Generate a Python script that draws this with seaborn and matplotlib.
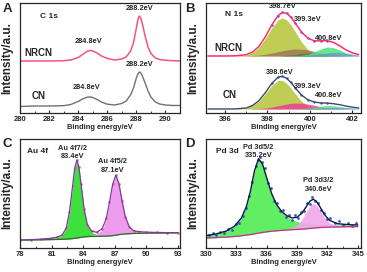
import numpy as np
import pandas as pd
import matplotlib
matplotlib.use('Agg')
from matplotlib import pyplot as plt
from matplotlib.ticker import MultipleLocator
import seaborn as sns

# ---------------- A: C 1s ----------------
c1s_x = [280, 281, 282, 283, 283.5, 284, 284.3, 284.6, 284.8, 285, 285.3, 285.6, 286, 286.5,
         287, 287.3, 287.6, 287.8, 288, 288.1, 288.2, 288.3, 288.4, 288.6, 288.8, 289, 289.3,
         289.6, 290, 290.5, 291]
c1s_nrcn = [52, 52, 52, 52.3, 53, 55.5, 58.5, 61.5, 62.5, 62, 60, 57, 54.5, 53,
            54, 56, 62, 70, 85, 93, 97, 95, 90, 77, 66, 59.5, 55,
            53.5, 52.7, 52.3, 52]
c1s_cn = [6.5, 7, 7, 7.3, 8.5, 11.5, 14, 15.8, 16, 15.5, 13.5, 11, 8.8, 8,
          9.5, 12, 18, 25, 35, 39, 41, 40, 37.5, 30, 22, 16, 11,
          9, 8, 7.5, 7.5]

# ---------------- B: N 1s ----------------
n1s_x = [395.2, 396, 396.5, 397, 397.3, 397.6, 397.9, 398.2, 398.5, 398.7, 398.9, 399.1,
         399.3, 399.6, 399.9, 400.2, 400.5, 400.8, 401.1, 401.4, 401.7, 402, 402.3]
nrcn_base = 57
nrcn_yellow = [0, 0, 0.1, 1.1, 3.5, 8.7, 17.4, 28, 36.2, 38, 36.2, 31.3,
               24.5, 14.1, 6.6, 2.4, 0.7, 0.2, 0, 0, 0, 0, 0]
nrcn_brown = [0, 0, 0.1, 0.2, 0.5, 0.9, 1.7, 2.9, 4.2, 5.2, 6, 6.6,
              7, 6.8, 6, 4.7, 3.3, 2.1, 1.2, 0.6, 0.3, 0.1, 0]
nrcn_dkgreen = [0, 0, 0, 0, 0, 0, 0, 0, 0, 0.3, 0.6, 1,
                1.5, 2.4, 3, 2.8, 2.1, 1.2, 0.6, 0.2, 0, 0, 0]
nrcn_green = [0, 0, 0, 0, 0, 0, 0, 0, 0, 0, 0, 0,
              0.1, 0.6, 1.7, 4, 6.9, 8.9, 8.4, 6, 3.1, 1.2, 0.4]
nrcn_blue = [0, 0, 0, 0, 0, 0, 0, 0, 0, 0, 0, 0,
             0, 0.2, 0.6, 1.3, 2.1, 3, 3.5, 3.4, 2.7, 1.8, 1]
cn_base = 4
cn_yellow = [0, 0, 0.1, 1, 3.3, 7.9, 15.3, 23.6, 28.6, 28.6, 25.8, 21,
             15.3, 7.9, 3.3, 1, 0.2, 0, 0, 0, 0, 0, 0]
cn_pink = [0, 0, 0, 0, 0.2, 0.5, 1, 1.9, 3.2, 4.1, 4.9, 5.6,
           6, 5.8, 4.9, 3.7, 2.3, 1.3, 0.6, 0.3, 0.1, 0, 0]
cn_green = [0, 0, 0, 0, 0, 0, 0, 0, 0, 0, 0, 0,
            0, 0.3, 0.9, 1.8, 2.8, 3.5, 3.3, 2.5, 1.4, 0.7, 0.2]
cn_blue = [0, 0, 0, 0, 0, 0, 0, 0, 0, 0, 0, 0,
           0, 0, 0.2, 0.5, 0.8, 1.1, 1.4, 1.5, 1.4, 1.1, 0.8]

# ---------------- C: Au 4f ----------------
au_x = [78, 79, 80, 81, 81.5, 82, 82.4, 82.7, 83, 83.2, 83.4, 83.6, 83.8, 84.1, 84.4, 84.8,
        85.3, 85.8, 86.2, 86.5, 86.8, 87.1, 87.4, 87.7, 88, 88.4, 88.8, 89.3, 90, 91, 92, 93]
au_bg = [8, 8.1, 8.3, 8.5, 8.6, 8.8, 9, 9.2, 9.5, 9.8, 10.1, 10.4, 10.8, 11.2, 11.5, 11.7,
         11.8, 11.9, 12, 12.2, 12.5, 13, 13.5, 13.9, 14.2, 14.5, 14.7, 14.8, 15, 15.1, 15.2, 15.3]
au_72 = [0, 0.2, 0.5, 1.2, 2, 4, 11, 27, 53, 70.5, 78, 70.5, 53, 27, 11, 4,
         1.8, 1.2, 0.9, 0.8, 0.6, 0.5, 0.4, 0.35, 0.3, 0.3, 0.2, 0.2, 0.1, 0.1, 0, 0]
au_52 = [0.1, 0.1, 0.15, 0.2, 0.25, 0.3, 0.35, 0.4, 0.45, 0.5, 0.55, 0.6, 0.7, 0.8, 1, 1.3,
         2.3, 6.2, 17, 33, 51, 60, 51, 33, 17, 6.2, 2.6, 1.5, 0.9, 0.5, 0.3, 0.2]

# ---------------- D: Pd 3d ----------------
pd_x = [330, 331, 332, 332.8, 333.5, 334, 334.4, 334.8, 335.2, 335.6, 336, 336.5, 337, 337.5,
        338, 338.5, 339, 339.5, 340, 340.3, 340.6, 340.9, 341.2, 341.7, 342.2, 343, 344, 345]
pd_bg = [10, 10.5, 11, 11.6, 12.3, 13, 13.6, 14.3, 15, 15.7, 16.3, 16.9, 17.4, 17.8,
         18.2, 18.5, 18.8, 19.1, 19.5, 19.8, 20.1, 20.4, 20.6, 20.9, 21.1, 21.3, 21.5, 21.6]
pd_52 = [2.4, 3.7, 6.1, 10.2, 17.9, 28.9, 43.9, 63.7, 75, 68.5, 54.4, 37.5, 25.7, 18.2,
         13.3, 10.1, 7.9, 6.3, 5.1, 4.6, 4.1, 3.7, 3.4, 2.9, 2.5, 2, 1.6, 1.3]
pd_32 = [0, 0, 0, 0, 0, 0, 0, 0.1, 0.15, 0.2, 0.2, 0.3, 0.4, 0.6,
         1, 1.8, 4.3, 10, 18.6, 23.1, 25, 23.1, 18.6, 10, 4.3, 1.2, 0.5, 0.3]
pd_raw_x = [330.3, 330.7, 331.0, 331.4, 331.8, 332.2, 332.6, 333.0, 333.3, 333.7, 334.0, 334.3,
            334.6, 334.9, 335.1, 335.3, 335.5, 335.8, 336.1, 336.4, 336.7, 337.0, 337.3, 337.6,
            337.9, 338.2, 338.5, 338.8, 339.1, 339.4, 339.7, 340.0, 340.3, 340.5, 340.8, 341.1,
            341.4, 341.7, 342.0, 342.3, 342.7, 343.1, 343.5, 344.0, 344.4, 344.8]
pd_raw_y = [13, 15.5, 12.8, 16.5, 14.9, 19.5, 18.2, 24.5, 25.1, 31.8, 40.2, 52.7,
            66.1, 82.5, 88.8, 91.6, 86.3, 80.4, 65.2, 60.1, 47.8, 45.9, 37.5, 37.9,
            31.4, 33.8, 28.1, 32.9, 30.4, 36.6, 37.2, 45.6, 44.2, 51.3, 47.9, 45.6,
            38.2, 35.7, 29.6, 29.9, 25.1, 26.8, 22.9, 25.4, 22.6, 25.0]

sns.set_style('ticks')
plt.rcParams['font.family'] = ['Liberation Sans', 'DejaVu Sans']
plt.rcParams['font.weight'] = 'bold'

fig = plt.figure(figsize=(3.67, 2.72), dpi=100)
axA = fig.add_axes([0.0545, 0.5846, 0.436, 0.4044])
axB = fig.add_axes([0.561, 0.5846, 0.4223, 0.4044])
axC = fig.add_axes([0.0545, 0.0882, 0.436, 0.4008])
axD = fig.add_axes([0.561, 0.0882, 0.4223, 0.4008])

tf = dict(fontsize=5.3, fontweight='bold')


def style(ax, xlim, major, minor):
    ax.set_xlim(*xlim)
    ax.set_ylim(0, 110)
    ax.set_yticks([])
    ax.xaxis.set_major_locator(MultipleLocator(major))
    ax.xaxis.set_minor_locator(MultipleLocator(minor))
    ax.tick_params(axis='x', which='major', direction='in', length=2.5, width=0.8,
                   pad=2, labelsize=5.5)
    ax.tick_params(axis='x', which='minor', direction='in', length=1.5, width=0.6)
    for lab in ax.get_xticklabels():
        lab.set_fontweight('bold')
    for s in ax.spines.values():
        s.set_linewidth(0.9)
        s.set_visible(True)
    ax.set_xlabel('Binding energy/eV', fontsize=5.4, fontweight='bold')
    ax.set_ylabel('Intensity/a.u.', fontsize=8.5, fontweight='bold')
    ax.xaxis.set_label_coords(0.5, -0.1)
    ax.yaxis.set_label_coords(-0.04, 0.5)


# A
dfA = pd.DataFrame({'x': c1s_x, 'NRCN': c1s_nrcn, 'CN': c1s_cn})
sns.lineplot(data=dfA, x='x', y='NRCN', ax=axA, color='#f2557a', lw=1.1)
sns.lineplot(data=dfA, x='x', y='CN', ax=axA, color='#6e7272', lw=1.0)
style(axA, (280, 291), 2, 1)
axA.set_xticks([280, 282, 284, 286, 288, 290])
axA.text(281.4, 96, 'C 1s', fontsize=6, fontweight='bold', va='center')
axA.text(280.3, 60, 'NRCN', fontsize=7, fontweight='bold', va='center')
axA.text(280.8, 17, 'CN', fontsize=7, fontweight='bold', va='center')
axA.text(288.2, 104, '288.2eV', ha='center', va='center', **tf)
axA.text(284.7, 71, '284.8eV', ha='center', va='center', **tf)
axA.text(288.2, 48, '288.2eV', ha='center', va='center', **tf)
axA.text(284.6, 25, '284.8eV', ha='center', va='center', **tf)

# B
xb = np.array(n1s_x)
for base, comps in [(nrcn_base, [(nrcn_yellow, '#bccb4c', 0.95), (nrcn_brown, '#9c6a58', 0.75),
                                 (nrcn_dkgreen, '#3f7f3f', 0.7), (nrcn_green, '#4fe07c', 0.85),
                                 (nrcn_blue, '#6a7ee6', 0.6)]),
                    (cn_base, [(cn_yellow, '#bccb4c', 0.95), (cn_pink, '#ec3d96', 0.85),
                               (cn_green, '#4fe07c', 0.8), (cn_blue, '#6a7ee6', 0.6)])]:
    for comp, col, al in comps:
        axB.fill_between(xb, base, base + np.array(comp), color=col, alpha=al, lw=0)
env_nrcn = nrcn_base + np.sum([nrcn_yellow, nrcn_brown, nrcn_dkgreen, nrcn_green, nrcn_blue], axis=0)
env_cn = cn_base + np.sum([cn_yellow, cn_pink, cn_green, cn_blue], axis=0)
sns.lineplot(x=xb, y=env_nrcn, ax=axB, color='#ff2d6e', lw=1.1)
sns.lineplot(x=xb, y=env_cn, ax=axB, color='#3d4870', lw=1.0)
sns.scatterplot(x=xb[7:18], y=env_nrcn[7:18], ax=axB, color='#4060c0', s=3, lw=0)
sns.scatterplot(x=xb[7:18], y=env_cn[7:18], ax=axB, color='#4060c0', s=3, lw=0)
style(axB, (395.1, 402.4), 2, 1)
axB.text(396.0, 98, 'N 1s', fontsize=6, fontweight='bold', va='center')
axB.text(395.5, 65, 'NRCN', fontsize=7, fontweight='bold', va='center')
axB.text(395.9, 18, 'CN', fontsize=7, fontweight='bold', va='center')
axB.text(398.7, 106, '398.7eV', ha='center', va='center', **tf)
axB.text(399.25, 93, '399.3eV', ha='left', va='center', **tf)
axB.text(400.9, 74, '400.8eV', ha='center', va='center', **tf)
axB.text(398.6, 40, '398.6eV', ha='center', va='center', **tf)
axB.text(399.25, 26, '399.3eV', ha='left', va='center', **tf)
axB.text(400.9, 17, '400.8eV', ha='center', va='center', **tf)

# C
xc = np.array(au_x)
bgc = np.array(au_bg)
axC.fill_between(xc, bgc, bgc + np.array(au_72), color='#3ee03e', lw=0)
axC.fill_between(xc, bgc, bgc + np.array(au_52), color='#ee9cee', lw=0)
env_au = bgc + np.array(au_72) + np.array(au_52)
sns.scatterplot(x=xc, y=env_au, ax=axC, color='#f07080', s=4, lw=0)
sns.lineplot(x=xc, y=bgc, ax=axC, color='#2a6a2a', lw=0.9)
sns.lineplot(x=xc, y=env_au, ax=axC, color='#7a3aa0', lw=0.9)
style(axC, (78, 93.2), 3, 1.5)
axC.text(78.7, 97, 'Au 4f', fontsize=6, fontweight='bold', va='center')
axC.text(83.0, 100, 'Au 4f7/2', ha='center', va='center', **tf)
axC.text(83.0, 92, '83.4eV', ha='center', va='center', **tf)
axC.text(86.8, 87, 'Au 4f5/2', ha='center', va='center', **tf)
axC.text(86.8, 78, '87.1eV', ha='center', va='center', **tf)

# D
xd = np.array(pd_x)
bgd = np.array(pd_bg)
axD.fill_between(xd, bgd, bgd + np.array(pd_52), color='#62ee62', lw=0)
axD.fill_between(xd, bgd, bgd + np.array(pd_32), color='#f0a8e8', lw=0, alpha=0.9)
env_pd = bgd + np.array(pd_52) + np.array(pd_32)
sns.scatterplot(x=pd_raw_x, y=pd_raw_y, ax=axD, color='#3355cc', s=4, lw=0)
sns.lineplot(x=xd, y=bgd, ax=axD, color='#c03090', lw=0.9)
sns.lineplot(x=xd, y=env_pd, ax=axD, color='#101840', lw=1.0)
style(axD, (330, 345.3), 3, 1.5)
axD.text(331.0, 97, 'Pd 3d', fontsize=6, fontweight='bold', va='center')
axD.text(335.2, 101, 'Pd 3d5/2', ha='center', va='center', **tf)
axD.text(335.2, 93, '335.2eV', ha='center', va='center', **tf)
axD.text(341.1, 68, 'Pd 3d3/2', ha='center', va='center', **tf)
axD.text(341.1, 59, '340.6eV', ha='center', va='center', **tf)

for lab, xx, yy in [('A', 0.008, 0.99), ('B', 0.505, 0.99), ('C', 0.008, 0.492), ('D', 0.505, 0.492)]:
    fig.text(xx, yy, lab, fontsize=9.5, fontweight='bold', va='top', ha='left')

fig.savefig('out.png', dpi=100)
